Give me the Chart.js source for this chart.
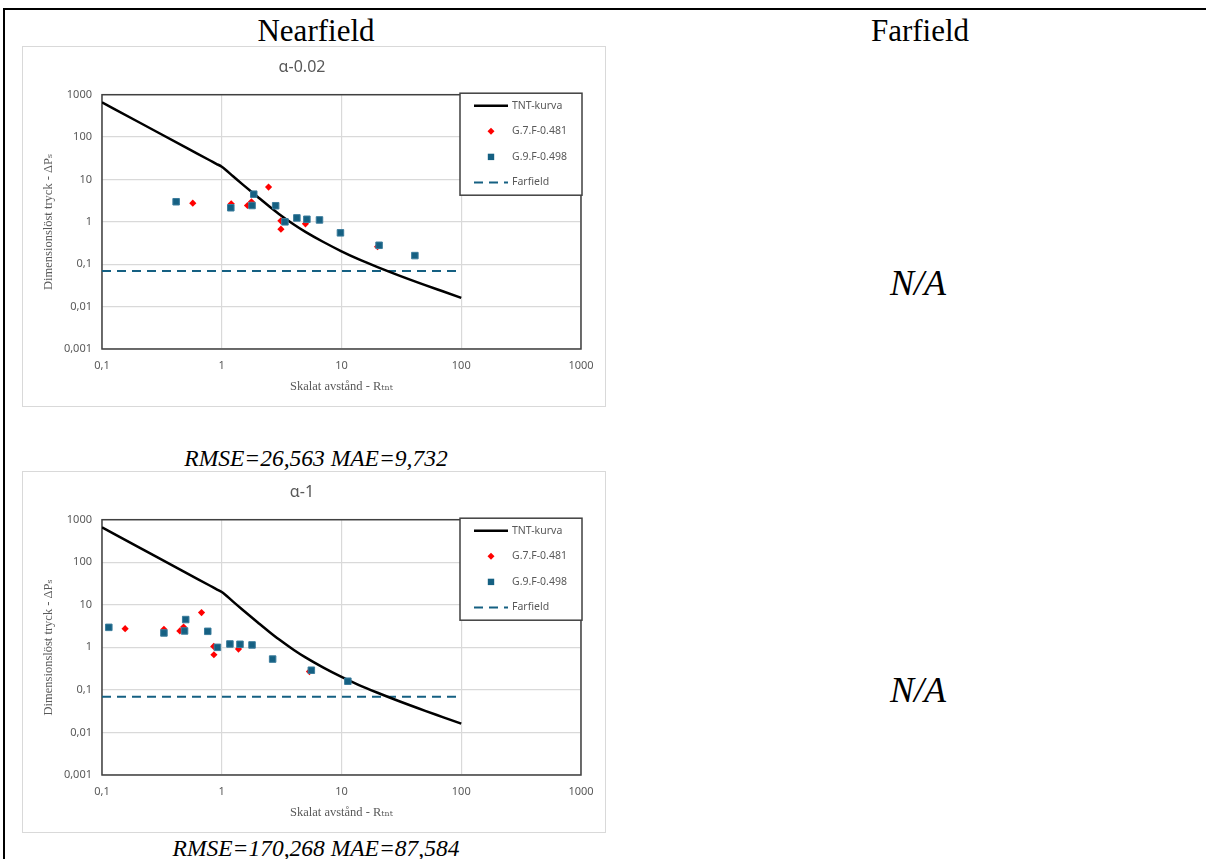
<!DOCTYPE html>
<html>
<head>
<meta charset="utf-8">
<script src="https://cdn.jsdelivr.net/npm/chart.js@4.4.1/dist/chart.umd.min.js"></script>
<style>
  body { margin: 0; background: #fff; width: 1206px; height: 859px; position: relative; overflow: hidden; }
  .txt { position: absolute; font-family: 'Liberation Serif', 'Times New Roman', serif; font-size: 23.5px; line-height: 1; color: #000; white-space: nowrap; transform: translate(-50%, -50%); }
  .hdr { font-size: 31px; }
  .it { font-style: italic; }
  .na { font-size: 36px; }
  .frame { position: absolute; left: 22px; width: 582px; border: 1px solid #d9d9d9; }
  .frame canvas { display: block; }
  .hline { position: absolute; left: 3px; right: 0; top: 8px; height: 2px; background: #000; }
  .vline { position: absolute; left: 3px; top: 8px; width: 2px; bottom: 0; background: #000; }
</style>
</head>
<body>
<div class="hline"></div>
<div class="vline"></div>

<div class="txt hdr" style="left:316px; top:30px;">Nearfield</div>
<div class="txt hdr" style="left:920px; top:30px;">Farfield</div>

<div class="frame" style="top:46px; height:359px;"><canvas id="graficoAlpha1" width="582" height="359"></canvas></div>
<div class="txt it" style="left:316px; top:459px;">RMSE=26,563 MAE=9,732</div>
<div class="txt it na" style="left:918px; top:283px;">N/A</div>

<div class="frame" style="top:471px; height:360px;"><canvas id="graficoAlpha2" width="582" height="360"></canvas></div>
<div class="txt it" style="left:316px; top:849px;">RMSE=170,268 MAE=87,584</div>
<div class="txt it na" style="left:918px; top:690px;">N/A</div>

<script>
// ticks (decades)
const xTicks = [0.1, 1, 10, 100, 1000];
const yTicks = [0.001, 0.01, 0.1, 1, 10, 100, 1000];

// TNT-kurva (same in both charts)
const tntX = [0.1, 0.2, 0.5, 0.8, 0.9, 1, 1.25, 1.5, 2, 2.5, 3, 4, 5, 7, 10, 14, 20, 30, 50, 70, 100];
const tntY = [660, 230, 57, 28, 23.4, 20, 11.7, 7.56, 3.85, 2.3, 1.54, 0.867, 0.58, 0.339, 0.202, 0.13, 0.0856, 0.0548, 0.0322, 0.023, 0.0161];

// Farfield
const farX = [0.1, 100];
const farY = [0.069, 0.069];

// alpha-0.02
const g7X_a = [0.573, 1.2, 1.64, 1.77, 2.46, 3.12, 3.12, 5.0, 20];
const g7Y_a = [2.76, 2.67, 2.43, 2.98, 6.6, 1.06, 0.67, 0.9, 0.26];
const g9X_a = [0.416, 1.19, 1.79, 1.85, 2.82, 3.37, 4.24, 5.14, 6.55, 9.8, 20.6, 41];
const g9Y_a = [2.98, 2.15, 2.43, 4.5, 2.4, 1.0, 1.24, 1.15, 1.11, 0.55, 0.28, 0.16];

// alpha-1
const g7X_b = [0.156, 0.329, 0.447, 0.48, 0.678, 0.857, 0.86, 1.38, 5.4];
const g7Y_b = [2.75, 2.65, 2.43, 3.0, 6.55, 1.05, 0.67, 0.91, 0.27];
const g9X_b = [0.114, 0.329, 0.489, 0.5, 0.764, 0.92, 1.17, 1.42, 1.79, 2.66, 5.6, 11.3];
const g9Y_b = [2.95, 2.18, 2.43, 4.5, 2.38, 1.0, 1.2, 1.18, 1.14, 0.53, 0.29, 0.16];

const labels = ["TNT-kurva", "G.7.F-0.481", "G.9.F-0.498", "Farfield"];
const blue = '#156082';
const red = '#ff0000';
const grey = '#595959';

function pts(xs, ys) {
    return xs.map((x, i) => ({ x: x, y: ys[i] }));
}

function fmt(v) {
    return String(v).replace('.', ',');
}

// plot border + boxed legend inside the plot area (excel style)
const excelBox = {
    id: 'excelBox',
    beforeDatasetsDraw(chart) {
        const { ctx, chartArea } = chart;
        ctx.save();
        ctx.strokeStyle = '#404040';
        ctx.lineWidth = 1.5;
        ctx.strokeRect(chartArea.left, chartArea.top, chartArea.right - chartArea.left, chartArea.bottom - chartArea.top);
        ctx.restore();
    },
    afterDraw(chart) {
        const { ctx, chartArea } = chart;
        const w = 122, h = 102;
        const x0 = chartArea.right - w + 1;
        const y0 = chartArea.top - 1.5;
        ctx.save();
        ctx.fillStyle = '#fff';
        ctx.fillRect(x0, y0, w, h);
        ctx.strokeStyle = '#404040';
        ctx.lineWidth = 1.5;
        ctx.strokeRect(x0, y0, w, h);
        ctx.font = "10.5px 'Noto Sans'";
        ctx.textBaseline = 'middle';
        chart.data.datasets.forEach((ds, i) => {
            const y = y0 + 12.5 + i * 25.6;
            const cx = x0 + 31;
            if (ds.showLine) {
                ctx.beginPath();
                ctx.strokeStyle = ds.borderColor;
                ctx.lineWidth = ds.borderWidth;
                ctx.setLineDash(ds.borderDash || []);
                ctx.moveTo(x0 + 14, y);
                ctx.lineTo(x0 + 48, y);
                ctx.stroke();
                ctx.setLineDash([]);
            } else if (ds.pointStyle === 'rect') {
                ctx.fillStyle = ds.backgroundColor;
                ctx.fillRect(cx - 3.2, y - 3.2, 6.4, 6.4);
            } else {
                ctx.fillStyle = ds.backgroundColor;
                ctx.beginPath();
                ctx.moveTo(cx, y - 3.5);
                ctx.lineTo(cx + 3.5, y);
                ctx.lineTo(cx, y + 3.5);
                ctx.lineTo(cx - 3.5, y);
                ctx.closePath();
                ctx.fill();
            }
            ctx.fillStyle = grey;
            ctx.fillText(ds.label, x0 + 52, y);
        });
        ctx.restore();
    }
};

function gerarGrafico(id, titulo, g7X, g7Y, g9X, g9Y) {
    const ctx = document.getElementById(id).getContext('2d');
    return new Chart(ctx, {
        type: 'scatter',
        data: {
            datasets: [{
                label: labels[0],
                data: pts(tntX, tntY),
                showLine: true,
                borderColor: '#000',
                borderWidth: 2.5,
                pointRadius: 0,
                cubicInterpolationMode: 'monotone',
                order: 3
            }, {
                label: labels[1],
                data: pts(g7X, g7Y),
                showLine: false,
                pointStyle: 'rectRot',
                pointRadius: 3.6,
                backgroundColor: red,
                borderColor: red,
                borderWidth: 0,
                order: 2
            }, {
                label: labels[2],
                data: pts(g9X, g9Y),
                showLine: false,
                pointStyle: 'rect',
                pointRadius: 4.6,
                backgroundColor: blue,
                borderColor: '#3b7c9c',
                borderWidth: 1,
                order: 1
            }, {
                label: labels[3],
                data: pts(farX, farY),
                showLine: true,
                borderColor: blue,
                borderWidth: 2,
                borderDash: [9, 6],
                pointRadius: 0,
                order: 4
            }]
        },
        options: {
            responsive: false,
            animation: false,
            devicePixelRatio: 1,
            layout: { padding: { left: 0, right: 24, top: 0, bottom: 0 } },
            plugins: {
                legend: { display: false },
                tooltip: { enabled: false },
                title: {
                    display: true,
                    text: titulo,
                    color: grey,
                    font: { family: "'Noto Sans'", size: 16, weight: 'normal', lineHeight: 1.2 },
                    padding: { top: 11, bottom: 17.5 }
                }
            },
            scales: {
                x: {
                    type: 'logarithmic',
                    min: 0.1,
                    max: 1000,
                    afterBuildTicks: (scale) => { scale.ticks = xTicks.map(v => ({ value: v })); },
                    afterFit: (scale) => { scale.height = 57; },
                    grid: { color: '#d9d9d9', lineWidth: 1.2, drawTicks: false },
                    border: { display: false },
                    ticks: {
                        autoSkip: false,
                        maxRotation: 0,
                        padding: 10,
                        color: grey,
                        font: { family: "'Noto Sans'", size: 11 },
                        callback: (v) => fmt(v)
                    },
                    title: {
                        display: true,
                        text: 'Skalat avstånd - Rₜₙₜ',
                        color: grey,
                        font: { family: "'Liberation Serif', 'DejaVu Serif', serif", size: 12.5 },
                        padding: { top: 0, bottom: 12 }
                    }
                },
                y: {
                    type: 'logarithmic',
                    min: 0.001,
                    max: 1000,
                    afterBuildTicks: (scale) => { scale.ticks = yTicks.map(v => ({ value: v })); },
                    afterFit: (scale) => { scale.width = 79; },
                    grid: { color: '#d9d9d9', lineWidth: 1.2, drawTicks: false },
                    border: { display: false },
                    ticks: {
                        autoSkip: false,
                        padding: 10,
                        color: grey,
                        font: { family: "'Noto Sans'", size: 11 },
                        callback: (v) => fmt(v)
                    },
                    title: {
                        display: true,
                        text: 'Dimensionslöst tryck - ΔPₛ',
                        color: grey,
                        font: { family: "'Liberation Serif', 'DejaVu Serif', serif", size: 12.5 },
                        padding: { top: 18, bottom: 0 }
                    }
                }
            }
        },
        plugins: [excelBox]
    });
}

gerarGrafico('graficoAlpha1', 'α-0.02', g7X_a, g7Y_a, g9X_a, g9Y_a);
gerarGrafico('graficoAlpha2', 'α-1', g7X_b, g7Y_b, g9X_b, g9Y_b);
</script>
</body>
</html>
